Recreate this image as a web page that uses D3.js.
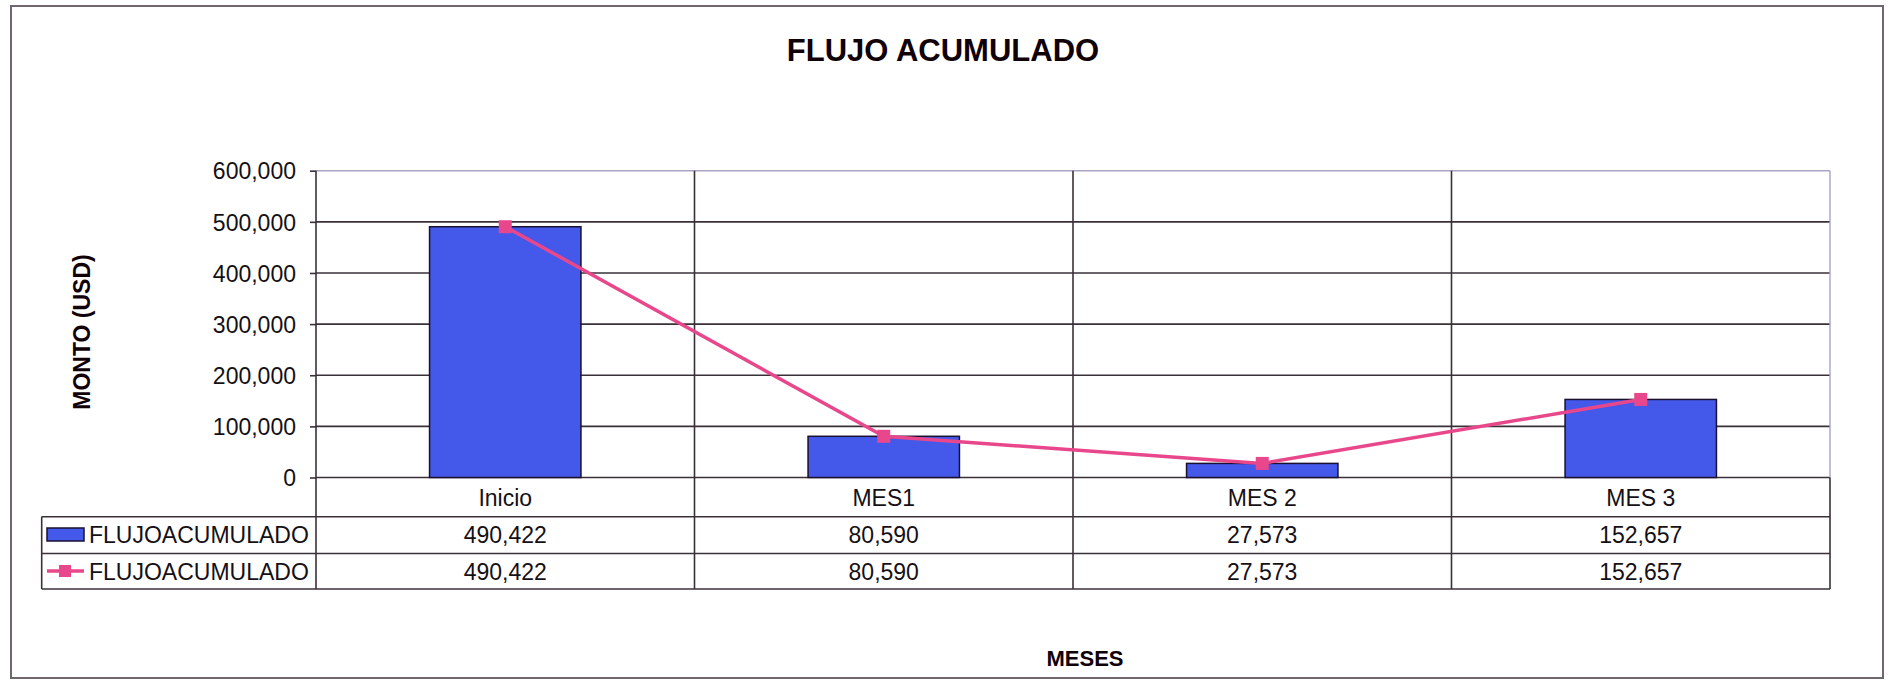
<!DOCTYPE html>
<html>
<head>
<meta charset="utf-8">
<script src="https://cdn.jsdelivr.net/npm/d3@7"></script>
<style>
  body { margin: 0; background: #fff; }
  svg { display: block; font-family: "Liberation Sans", Arial, sans-serif; }
</style>
</head>
<body>
<div id="chart"></div>
<script>
const categories = ["Inicio", "MES1", "MES 2", "MES 3"];
const barValues = [490422, 80590, 27573, 152657];
const lineValues = [490422, 80590, 27573, 152657];
const seriesNames = ["FLUJOACUMULADO", "FLUJOACUMULADO"];
const yTicks = [0, 100000, 200000, 300000, 400000, 500000, 600000];

const W = 1894, H = 681;
const barColor = "#4458ea";
const lineColor = "#e9478b";
const gridColor = "#3a3038";

const svg = d3.select("#chart").append("svg")
  .attr("width", W)
  .attr("height", H);

// ----- outer frame -----
svg.append("rect")
  .attr("x", 11).attr("y", 6)
  .attr("width", 1872).attr("height", 672)
  .attr("fill", "#fff")
  .attr("stroke", "#706670")
  .attr("stroke-width", 2);

svg.append("text")
  .attr("x", 943).attr("y", 61)
  .attr("text-anchor", "middle")
  .attr("font-size", 31)
  .attr("font-weight", "bold")
  .attr("fill", "#100008")
  .text("FLUJO ACUMULADO");

// ----- scales -----
const x = d3.scaleBand()
  .domain(categories)
  .range([316, 1830])
  .padding(0);

const y = d3.scaleLinear()
  .domain([0, 600000])
  .range([477.5, 170.7]);

const bw = x.bandwidth() * 0.4;
const fmt = d3.format(",");

// table geometry
const rowLines = [516.7, 553.5, 589];
const legendLeft = 41.7;

// ----- grid -----
yTicks.forEach(t => {
  svg.append("line")
    .attr("x1", 316).attr("x2", 1830)
    .attr("y1", y(t)).attr("y2", y(t))
    .attr("stroke", t === 600000 ? "#aaa3c4" : gridColor)
    .attr("stroke-width", t === 600000 ? 1.4 : 1.6);
});

// plot right edge (light), table right edge (dark)
svg.append("line")
  .attr("x1", 1830).attr("x2", 1830)
  .attr("y1", y(600000)).attr("y2", y(0))
  .attr("stroke", "#aaa3c4").attr("stroke-width", 1.4);
svg.append("line")
  .attr("x1", 1830).attr("x2", 1830)
  .attr("y1", y(0)).attr("y2", rowLines[2])
  .attr("stroke", gridColor).attr("stroke-width", 1.6);

// category dividers
categories.slice(1).forEach(c => {
  svg.append("line")
    .attr("x1", x(c)).attr("x2", x(c))
    .attr("y1", y(600000)).attr("y2", rowLines[2])
    .attr("stroke", gridColor).attr("stroke-width", 1.6);
});

// ----- y axis -----
const yAxis = d3.axisLeft(y)
  .tickValues(yTicks)
  .tickFormat(fmt)
  .tickSize(6)
  .tickPadding(14);

const ax = svg.append("g")
  .attr("transform", "translate(316,0)")
  .call(yAxis);
ax.select(".domain").remove();
ax.selectAll(".tick line").attr("stroke", gridColor).attr("stroke-width", 1.6);
ax.selectAll(".tick text")
  .attr("font-size", 23)
  .attr("font-family", "'Liberation Sans', Arial, sans-serif")
  .attr("fill", "#151015")
  .attr("dy", "0.36em");

svg.append("line")
  .attr("x1", 316).attr("x2", 316)
  .attr("y1", y(600000)).attr("y2", rowLines[2])
  .attr("stroke", gridColor).attr("stroke-width", 1.6);

svg.append("text")
  .attr("transform", "translate(90,332) rotate(-90)")
  .attr("text-anchor", "middle")
  .attr("font-size", 23)
  .attr("font-weight", "bold")
  .attr("fill", "#100008")
  .text("MONTO (USD)");

// ----- bars -----
svg.append("g").selectAll("rect")
  .data(barValues)
  .join("rect")
  .attr("x", (d, i) => x(categories[i]) + (x.bandwidth() - bw) / 2)
  .attr("y", d => y(d))
  .attr("width", bw)
  .attr("height", d => y(0) - y(d))
  .attr("fill", barColor)
  .attr("stroke", "#1a1030")
  .attr("stroke-width", 1.5);

// ----- line -----
const line = d3.line()
  .x((d, i) => x(categories[i]) + x.bandwidth() / 2)
  .y(d => y(d));

svg.append("path")
  .datum(lineValues)
  .attr("d", line)
  .attr("fill", "none")
  .attr("stroke", lineColor)
  .attr("stroke-width", 3.5);

svg.append("g").selectAll("rect")
  .data(lineValues)
  .join("rect")
  .attr("x", (d, i) => x(categories[i]) + x.bandwidth() / 2 - 6.5)
  .attr("y", d => y(d) - 6.5)
  .attr("width", 13)
  .attr("height", 13)
  .attr("fill", lineColor);

// ----- data table -----
rowLines.forEach(ly => {
  svg.append("line")
    .attr("x1", legendLeft).attr("x2", 1830)
    .attr("y1", ly).attr("y2", ly)
    .attr("stroke", gridColor).attr("stroke-width", 1.6);
});
svg.append("line")
  .attr("x1", legendLeft).attr("x2", legendLeft)
  .attr("y1", rowLines[0]).attr("y2", rowLines[2])
  .attr("stroke", gridColor).attr("stroke-width", 1.6);

svg.append("g").selectAll("text")
  .data(categories)
  .join("text")
  .attr("x", d => x(d) + x.bandwidth() / 2)
  .attr("y", 506)
  .attr("text-anchor", "middle")
  .attr("font-size", 23)
  .attr("fill", "#151015")
  .text(d => d);

[barValues, lineValues].forEach((vals, r) => {
  const by = [542.5, 579.5][r];
  svg.append("g").selectAll("text")
    .data(vals)
    .join("text")
    .attr("x", (d, i) => x(categories[i]) + x.bandwidth() / 2)
    .attr("y", by)
    .attr("text-anchor", "middle")
    .attr("font-size", 23)
    .attr("fill", "#151015")
    .text(d => fmt(d));

  svg.append("text")
    .attr("x", 89)
    .attr("y", by)
    .attr("font-size", 23)
    .attr("fill", "#151015")
    .text(seriesNames[r]);
});

// legend keys
svg.append("rect")
  .attr("x", 47).attr("y", 528)
  .attr("width", 37).attr("height", 13)
  .attr("fill", barColor)
  .attr("stroke", "#1a1030")
  .attr("stroke-width", 1.5);
svg.append("line")
  .attr("x1", 47).attr("x2", 84)
  .attr("y1", 571).attr("y2", 571)
  .attr("stroke", lineColor).attr("stroke-width", 3.5);
svg.append("rect")
  .attr("x", 59).attr("y", 565)
  .attr("width", 12).attr("height", 12)
  .attr("fill", lineColor);

// x axis title
svg.append("text")
  .attr("x", 1085).attr("y", 666)
  .attr("text-anchor", "middle")
  .attr("font-size", 22)
  .attr("font-weight", "bold")
  .attr("fill", "#100008")
  .text("MESES");
</script>
</body>
</html>
